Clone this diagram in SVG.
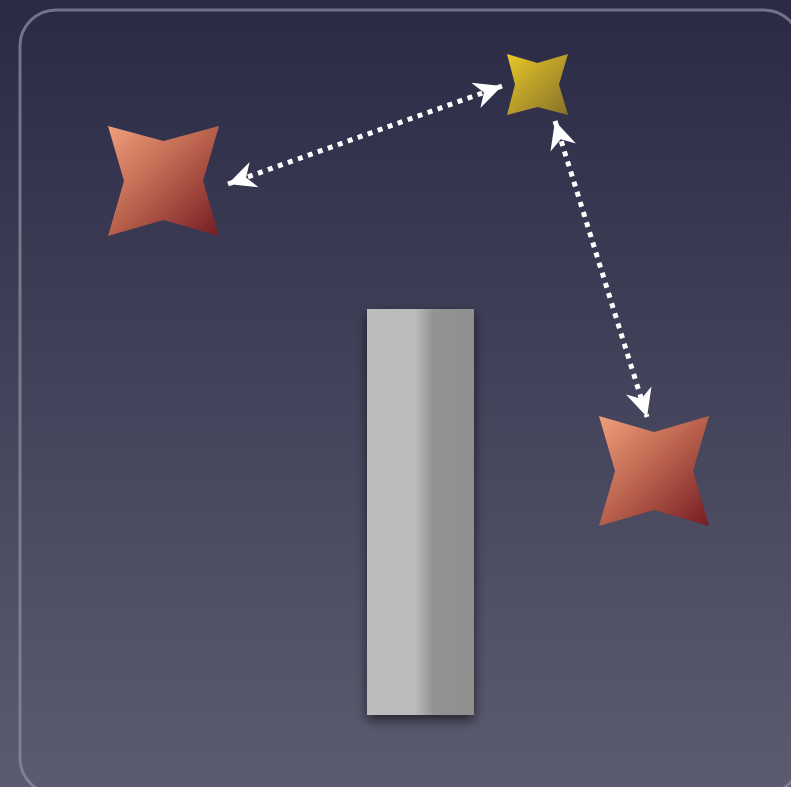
<svg xmlns="http://www.w3.org/2000/svg" width="791" height="787" viewBox="0 0 791 787">
  <defs>
    <linearGradient id="bg" x1="0" y1="0" x2="0" y2="1">
      <stop offset="0" stop-color="#2a2a45"/>
      <stop offset="1" stop-color="#5b5b70"/>
    </linearGradient>
    <linearGradient id="red" x1="0" y1="0" x2="1" y2="1">
      <stop offset="0" stop-color="#f0a07c"/>
      <stop offset="0.5" stop-color="#b8604c"/>
      <stop offset="1" stop-color="#741c22"/>
    </linearGradient>
    <linearGradient id="gold" x1="0" y1="0" x2="1" y2="1">
      <stop offset="0" stop-color="#e8c828"/>
      <stop offset="1" stop-color="#86702a"/>
    </linearGradient>
    <linearGradient id="bar" x1="0" y1="0" x2="1" y2="0">
      <stop offset="0" stop-color="#bdbdbd"/>
      <stop offset="0.45" stop-color="#bbbbbb"/>
      <stop offset="0.62" stop-color="#939393"/>
      <stop offset="1" stop-color="#8f8f8f"/>
    </linearGradient>
    <filter id="shadow" x="-30%" y="-10%" width="160%" height="120%">
      <feGaussianBlur in="SourceAlpha" stdDeviation="6"/>
      <feOffset dy="5"/>
      <feComponentTransfer><feFuncA type="linear" slope="0.6"/></feComponentTransfer>
      <feMerge><feMergeNode/><feMergeNode in="SourceGraphic"/></feMerge>
    </filter>
    <marker id="head" markerUnits="userSpaceOnUse" markerWidth="32" markerHeight="32" viewBox="-28 -14 30 28" refX="0" refY="0" orient="auto-start-reverse">
      <path d="M0,0 L-26,-12.5 L-18,0 L-26,12.5 Z" fill="#ffffff"/>
    </marker>
    <style>
      .conn { stroke: #ffffff; stroke-width: 5; stroke-dasharray: 5 5.6; fill: none; marker-start: url(#head); marker-end: url(#head); }
    </style>
  </defs>
  <rect x="0" y="0" width="791" height="787" fill="url(#bg)"/>
  <rect x="20" y="10" width="780" height="784" rx="36" ry="36" fill="none" stroke="#8c8c9e" stroke-opacity="0.75" stroke-width="3"/>

  <g id="bar-node" filter="url(#shadow)">
    <rect x="367" y="309" width="107" height="406" fill="url(#bar)"/>
  </g>

  <g id="star-left">
    <path d="M108,126 L163.5,141 L219,126 L203,181 L219,236 L163.5,220 L108,236 L124,181 Z" fill="url(#red)"/>
  </g>
  <g id="star-gold">
    <path d="M507,54 L537.5,63 L568,54 L559,84.5 L568,115 L537.5,107 L507,115 L515,84.5 Z" fill="url(#gold)"/>
  </g>
  <g id="star-right">
    <path d="M599,416 L654,432 L709,416 L693,471 L709,526 L654,510 L599,526 L615,471 Z" fill="url(#red)"/>
  </g>

  <g id="connectors">
    <line class="conn" x1="228" y1="184" x2="502" y2="86"/>
    <line class="conn" x1="555" y1="121" x2="647" y2="417"/>
  </g>
</svg>
